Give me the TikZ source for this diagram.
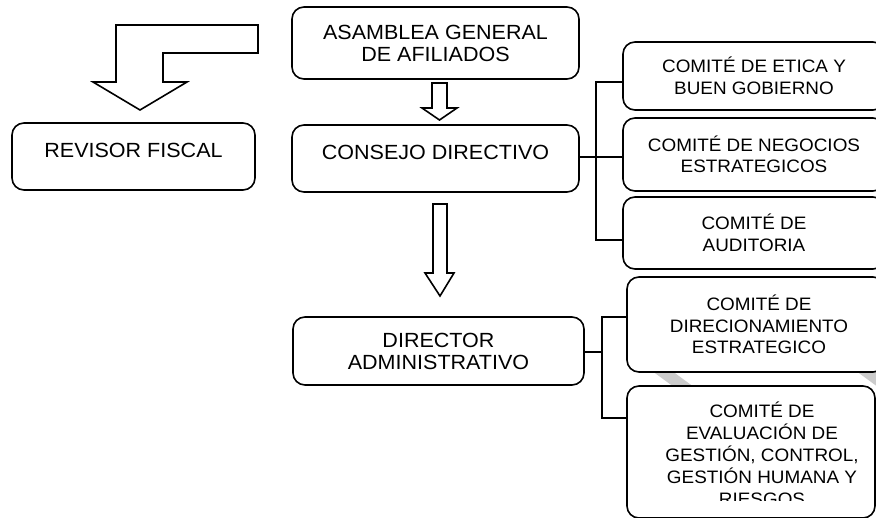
\documentclass[tikz,border=0pt]{standalone}
\usepackage{fontspec}
\setmainfont{Liberation Sans}[FakeStretch=1.05]
\begin{document}
\begin{tikzpicture}[x=1pt,y=-1pt,
  box/.style={draw, line width=1.6pt, rounded corners=12pt, fill=white, align=center, inner sep=0pt},
  mainbox/.style={box, font=\fontsize{20.5}{22}\selectfont},
  combox/.style={box, font=\fontsize{18}{21.5}\selectfont},
  blockarrow/.style={draw, line width=1.6pt, fill=white, line join=miter},
  link/.style={draw, line width=1.6pt},
  wmark/.style={fill=black!20}]
\useasboundingbox (0,0) rectangle (876,518);
\clip (0,0) rectangle (876,518);
% faint watermark pieces
\fill[wmark] (648,368) -- (668,368) -- (698,390) -- (678,390) -- cycle;
\fill[wmark] (852,368) -- (872,368) -- (902,390) -- (882,390) -- cycle;
% main boxes
\node[mainbox, minimum width=287pt, minimum height=72pt] (asam) at (435.5,43) {ASAMBLEA GENERAL\\DE AFILIADOS};
\node[mainbox, minimum width=287pt, minimum height=67pt] (cons) at (435.5,158.5) {\raisebox{6pt}[\height][\depth]{CONSEJO DIRECTIVO}};
\node[mainbox, minimum width=243pt, minimum height=67pt] (rev) at (133.5,156.5) {\raisebox{6pt}[\height][\depth]{REVISOR FISCAL}};
\node[mainbox, minimum width=291pt, minimum height=68pt] (dir) at (438.5,351) {DIRECTOR\\ADMINISTRATIVO};
% committees
\node[combox, minimum width=262pt, minimum height=68pt] (c1) at (754,76) {COMITÉ DE ETICA Y\\BUEN GOBIERNO};
\node[combox, minimum width=262pt, minimum height=73pt] (c2) at (754,154.5) {COMITÉ DE NEGOCIOS\\ESTRATEGICOS};
\node[combox, minimum width=262pt, minimum height=72pt] (c3) at (754,233) {COMITÉ DE\\AUDITORIA};
\node[combox, minimum width=258pt, minimum height=95pt] (c4) at (756,324.5) {\hspace*{6pt}\raisebox{-3pt}[\height][\depth]{\begin{tabular}{@{}c@{}}COMITÉ DE\\DIRECIONAMIENTO\\ESTRATEGICO\end{tabular}}};
\node[combox, minimum width=248pt, minimum height=132pt] (c5) at (751,452) {\hspace*{22pt}\raisebox{-5pt}[\height][\depth]{\begin{tabular}{@{}c@{}}COMITÉ DE\\EVALUACIÓN DE\\GESTIÓN, CONTROL,\\GESTIÓN HUMANA Y\\RIESGOS\end{tabular}}};
\fill[white] (645,501) rectangle (860,514);
% block arrows
\draw[blockarrow] (116,25) -- (258,25) -- (258,53) -- (163,53) -- (163,82) -- (187,82) -- (140,110) -- (93,82) -- (116,82) -- cycle;
\draw[blockarrow] (432,83) -- (447,83) -- (447,108) -- (457,108) -- (439.5,120) -- (422,108) -- (432,108) -- cycle;
\draw[blockarrow] (433,204) -- (447,204) -- (447,273) -- (454,273) -- (440,296) -- (425,273) -- (433,273) -- cycle;
% connectors
\coordinate (j1) at (596,157);
\coordinate (j2) at (602,352);
\draw[link] (cons.east |- j1) -- (j1);
\draw[link] (c1.west |- 0,82) -| (j1) |- (c3.west |- 0,240);
\draw[link] (j1) -- (c2.west |- j1);
\draw[link] (dir.east |- j2) -- (j2);
\draw[link] (c4.west |- 0,317) -| (j2) |- (c5.west |- 0,418);
\end{tikzpicture}
\end{document}
